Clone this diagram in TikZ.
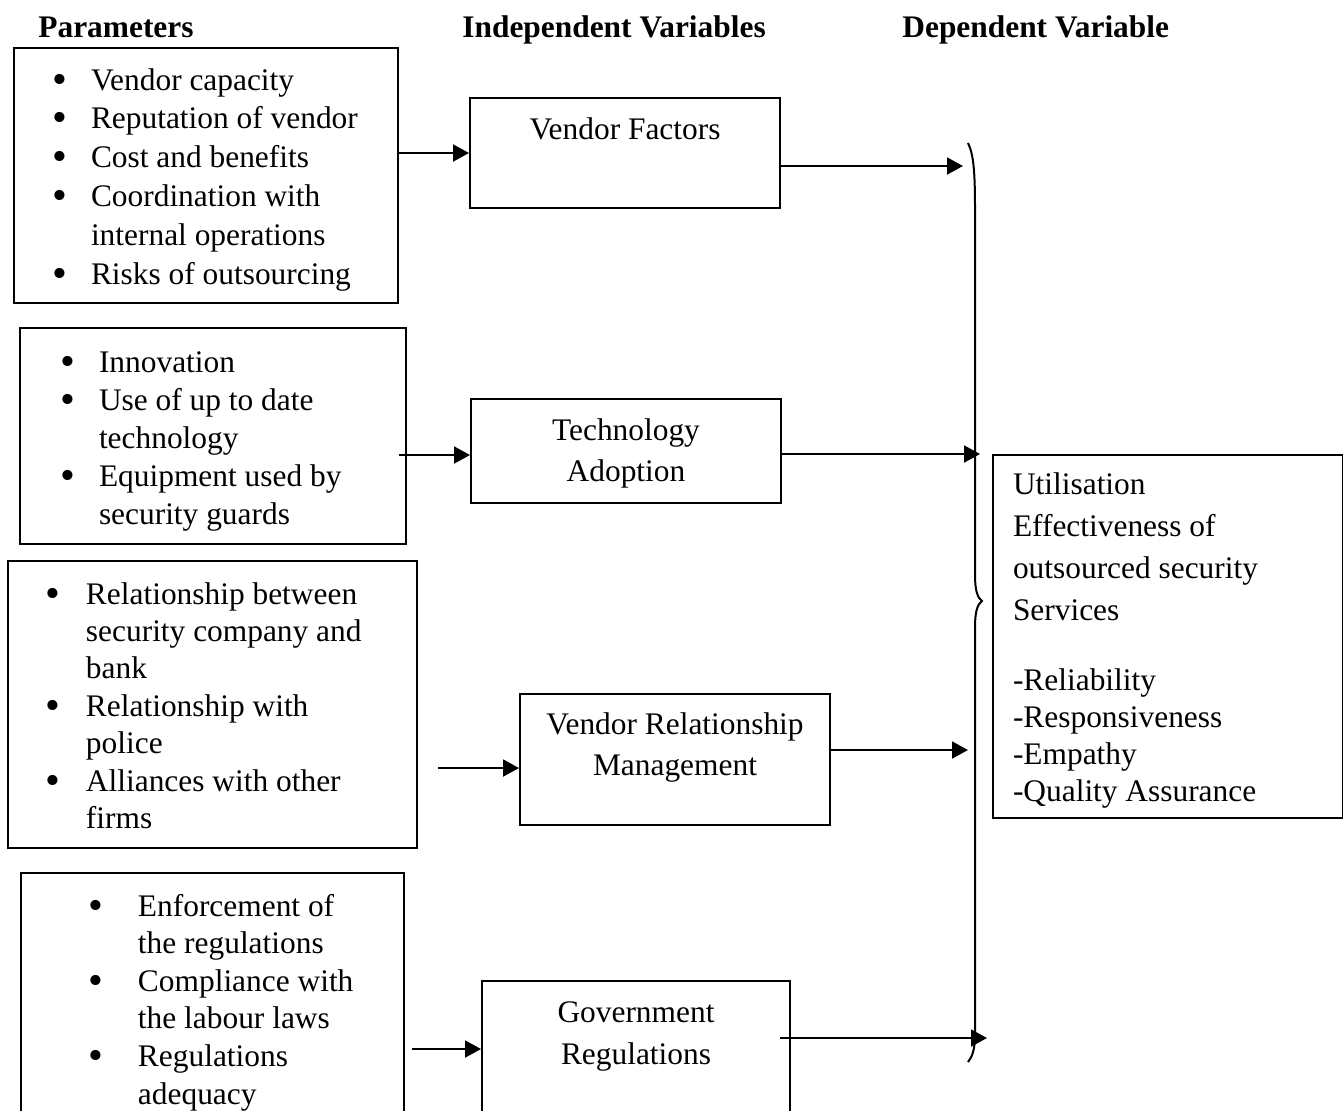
\documentclass[tikz,border=0pt]{standalone}
\usepackage{fontspec}
\setmainfont{Liberation Serif}
\usepackage{graphicx}
\usetikzlibrary{arrows.meta,calc}

\newlength{\unitpx}\setlength{\unitpx}{0.5pt}
\newlength{\bltc}\newlength{\bltt}
\newcommand{\blt}{\raisebox{-0.1em}{\scalebox{1.35}{\textbullet}}}
\newcommand{\bx}[4]{\parbox[t][#2\unitpx][t]{#1\unitpx}{\lineskiplimit=-\maxdimen\noindent\rule{0pt}{#3\unitpx}#4}}
\newcommand{\bl}[3]{\setlength{\bltc}{#1\unitpx}\setlength{\bltt}{#2\unitpx}\setlength{\baselineskip}{#3\unitpx}}
\newcommand{\itm}[1]{\hangindent=\bltt\hangafter=1\hspace*{\bltc}\makebox[0pt]{\blt}\hspace*{\dimexpr\bltt-\bltc\relax}#1\par}

\begin{document}
\begin{tikzpicture}[x=0.5pt, y=-0.5pt,
    font=\fontsize{15.7pt}{19.4pt}\selectfont,
    box/.style={draw, line width=1pt, inner sep=0pt, anchor=north west},
    hdr/.style={anchor=base west, inner sep=0pt, font=\fontsize{15.7pt}{19.4pt}\selectfont\bfseries},
    arr/.style={line width=1pt, -{Triangle[length=8pt,width=8.5pt]}}]
    \useasboundingbox (0,0) rectangle (1343,1110);

    % Column headings
    \node[hdr] (hpar) at (38,37) {Parameters};
    \node[hdr] (hind) at (462,37) {Independent Variables};
    \node[hdr] (hdep) at (902,37) {Dependent Variable};

    % Parameters
    \node[box] (par1) at (12.5,47) {\bx{384.5}{255}{42}{\bl{46.5}{77.5}{38.8}%
        \itm{Vendor capacity}\itm{Reputation of vendor}\itm{Cost and benefits}%
        \itm{Coordination with\\internal operations}\itm{Risks of outsourcing}}};
    \node[box] (par2) at (19,327) {\bx{386}{216}{44}{\bl{48}{79}{38}%
        \itm{Innovation}\itm{Use of up to date\\technology}%
        \itm{Equipment used by\\security guards}}};
    \node[box] (par3) at (7,560) {\bx{409}{287}{43}{\bl{45}{78}{37.4}%
        \itm{Relationship between\\security company and\\bank}%
        \itm{Relationship with\\police}\itm{Alliances with other\\firms}}};
    \node[box] (par4) at (20,872) {\bx{383}{260}{43}{\bl{74.5}{117}{37.6}%
        \itm{Enforcement of\\the regulations}\itm{Compliance with\\the labour laws}%
        \itm{Regulations\\adequacy}}};

    % Independent variables
    \node[box] (vf) at (469,97) {\bx{310}{110}{41}{\centering Vendor Factors}};
    \node[box] (ta) at (470,398) {\bx{310}{104}{41}{\centering\setlength{\baselineskip}{41\unitpx}Technology\\Adoption}};
    \node[box] (vrm) at (519,693) {\bx{310}{131}{40}{\centering\setlength{\baselineskip}{41\unitpx}Vendor Relationship\\Management}};
    \node[box] (gov) at (481,980) {\bx{308}{150}{41}{\centering\setlength{\baselineskip}{42\unitpx}Government\\Regulations}};

    % Dependent variable
    \node[box] (util) at (992,454) {\bx{350}{363}{39}{\raggedright\leftskip=20\unitpx
        \setlength{\baselineskip}{42\unitpx}Utilisation\\Effectiveness of\\outsourced security\\Services\par
        \vspace{33\unitpx}\setlength{\baselineskip}{37\unitpx}-Reliability\\-Responsiveness\\-Empathy\\-Quality Assurance\par}};

    % Brace
    \draw[line width=1pt] (968,143) .. controls (974,155) and (975,175) .. (975,210) -- (975,575)
        .. controls (975,592) and (978,598) .. (982,601) .. controls (978,604) and (975,610) .. (975,627)
        -- (975,1035) .. controls (975,1050) and (972,1057) .. (968,1062);
    \coordinate (in1) at (963,166);
    \coordinate (in2) at (980,454);
    \coordinate (in3) at (968,750);
    \coordinate (in4) at (987,1038);

    % Arrows
    \draw[arr] (par1.east |- vf.west) -- (vf.west);
    \draw[arr] (vf.east |- in1) -- (in1);
    \draw[arr] ($(par2.east |- ta.west)+(-8,4)$) -- ($(ta.west)+(0,4)$);
    \draw[arr] (ta.east |- in2) -- (in2);
    \draw[arr] ($(par3.east |- vrm.west)+(20,8.5)$) -- ($(vrm.west)+(0,8.5)$);
    \draw[arr] ($(vrm.east |- in3)+(-2,0)$) -- (in3);
    \draw[arr] ($(par4.east |- gov.west)+(7,-7)$) -- ($(gov.west)+(0,-7)$);
    \draw[arr] ($(gov.east |- in4)+(-11,0)$) -- (in4);
\end{tikzpicture}
\end{document}
